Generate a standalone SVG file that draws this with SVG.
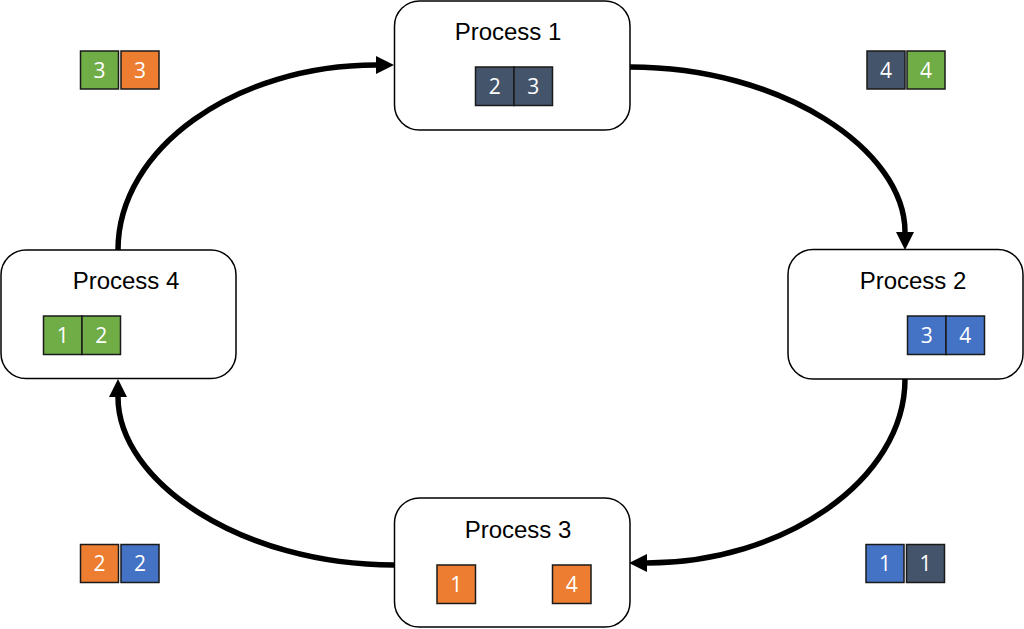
<svg xmlns="http://www.w3.org/2000/svg" width="1024" height="629" viewBox="0 0 1024 629">
<style>
.box{fill:#fff;stroke:#000;stroke-width:1.5}
.title{font-family:"Liberation Sans",Arial,sans-serif;font-size:24px;fill:#000;text-anchor:middle}
.sq{stroke:#1a1a1a;stroke-width:1.5}
.num{font-family:"Open Sans","Liberation Sans",sans-serif;font-size:21px;fill:#fff;text-anchor:middle}
.dark{fill:#44546A}.blue{fill:#4472C4}.orange{fill:#ED7D31}.green{fill:#70AD47}
.conn{fill:none;stroke:#000;stroke-width:5.5;marker-end:url(#ah)}
</style>
<defs>
<marker id="ah" markerUnits="userSpaceOnUse" markerWidth="20" markerHeight="20" refX="0" refY="10" orient="auto" overflow="visible">
<path d="M0,1 L18,10 L0,19 z" fill="#000"/>
</marker>
</defs>
<rect width="1024" height="629" fill="#fff"/>
<g id="connectors">
<path class="conn" d="M118,250 C118,148 236,65 376,65"/>
<path class="conn" d="M630,67 C782,67 905,150 905,232"/>
<path class="conn" d="M905,379 C905,481 782,563 647,563"/>
<path class="conn" d="M394,565 C242,565 118,482 118,397"/>
</g>
<g id="process1">
<rect class="box" x="394.5" y="1" width="235.5" height="129" rx="25"/>
<text class="title" x="508" y="40">Process 1</text>
<rect class="sq dark" x="475.5" y="67" width="38.5" height="38.5"/>
<rect class="sq dark" x="514" y="67" width="38.5" height="38.5"/>
<text class="num" x="494.7" y="94">2</text>
<text class="num" x="533.2" y="94">3</text>
</g>
<g id="process2">
<rect class="box" x="788" y="249.5" width="235" height="129.5" rx="25"/>
<text class="title" x="913" y="289">Process 2</text>
<rect class="sq blue" x="907.5" y="316" width="38.5" height="38.5"/>
<rect class="sq blue" x="946" y="316" width="38.5" height="38.5"/>
<text class="num" x="926.7" y="343">3</text>
<text class="num" x="965.2" y="343">4</text>
</g>
<g id="process3">
<rect class="box" x="394.5" y="498" width="235.5" height="129" rx="25"/>
<text class="title" x="518" y="538">Process 3</text>
<rect class="sq orange" x="437" y="565" width="38.5" height="38.5"/>
<rect class="sq orange" x="552.5" y="565" width="38.5" height="38.5"/>
<text class="num" x="456.2" y="592">1</text>
<text class="num" x="571.7" y="592">4</text>
</g>
<g id="process4">
<rect class="box" x="1" y="250" width="235" height="128.5" rx="25"/>
<text class="title" x="126" y="289">Process 4</text>
<rect class="sq green" x="43.5" y="316" width="38.5" height="38.5"/>
<rect class="sq green" x="82" y="316" width="38.5" height="38.5"/>
<text class="num" x="62.7" y="343">1</text>
<text class="num" x="101.2" y="343">2</text>
</g>
<g id="pair-top-left">
<rect class="sq green" x="80.5" y="51" width="38" height="38"/>
<rect class="sq orange" x="121" y="51" width="38" height="38"/>
<text class="num" x="99.5" y="77.5">3</text>
<text class="num" x="140" y="77.5">3</text>
</g>
<g id="pair-top-right">
<rect class="sq dark" x="867" y="51" width="38" height="38"/>
<rect class="sq green" x="907" y="51" width="38" height="38"/>
<text class="num" x="886" y="77.5">4</text>
<text class="num" x="926" y="77.5">4</text>
</g>
<g id="pair-bottom-left">
<rect class="sq orange" x="80.5" y="544.5" width="38" height="38"/>
<rect class="sq blue" x="121" y="544.5" width="38" height="38"/>
<text class="num" x="99.5" y="571">2</text>
<text class="num" x="140" y="571">2</text>
</g>
<g id="pair-bottom-right">
<rect class="sq blue" x="866" y="544.5" width="38" height="38"/>
<rect class="sq dark" x="906.5" y="544.5" width="38" height="38"/>
<text class="num" x="885" y="571">1</text>
<text class="num" x="925.5" y="571">1</text>
</g>
</svg>
